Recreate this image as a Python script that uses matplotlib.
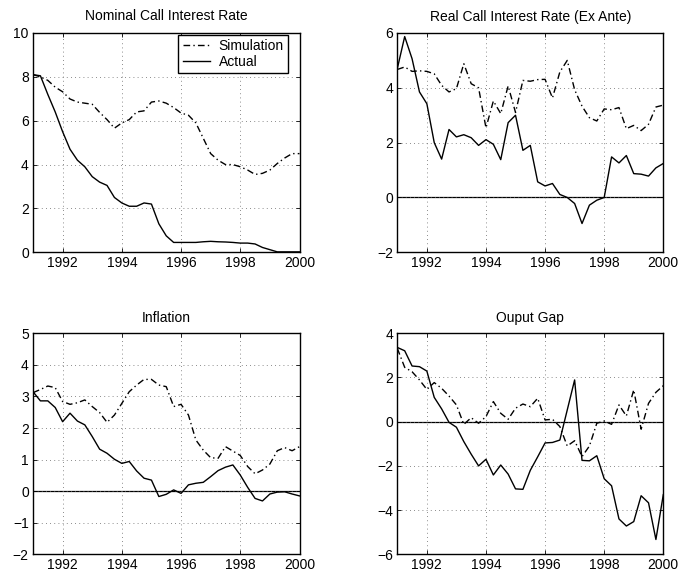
import numpy as np
import matplotlib
matplotlib.use("Agg")
import matplotlib.pyplot as plt

plt.rcParams['font.family'] = ['Liberation Sans', 'DejaVu Sans']

# Quarterly observations, 1991Q1 .. 2000Q1
quarters = np.arange(37) / 4.0 + 1991.0

nominal_sim = [8.1, 8.0, 7.84, 7.53, 7.32, 6.99, 6.85, 6.8, 6.75, 6.38, 6.05, 5.66, 5.9,
               6.05, 6.4, 6.45, 6.85, 6.9, 6.8, 6.6, 6.35, 6.25, 5.9, 5.2, 4.5, 4.2, 4.0,
               4.0, 3.9, 3.75, 3.55, 3.6, 3.75, 4.05, 4.3, 4.5, 4.5]
nominal_act = [8.1, 8.05, 7.2, 6.4, 5.5, 4.7, 4.2, 3.9, 3.45, 3.2, 3.05, 2.5, 2.25, 2.1,
               2.1, 2.25, 2.2, 1.3, 0.75, 0.45, 0.45, 0.45, 0.45, 0.48, 0.5, 0.48, 0.47,
               0.45, 0.42, 0.42, 0.38, 0.22, 0.12, 0.02, 0.02, 0.02, 0.02]

real_sim = [4.67, 4.76, 4.6, 4.62, 4.6, 4.51, 4.09, 3.85, 3.97, 4.88, 4.15, 4.0, 2.54,
            3.52, 3.06, 4.07, 3.1, 4.27, 4.24, 4.3, 4.31, 3.63, 4.58, 5.0, 3.93, 3.33,
            2.91, 2.79, 3.23, 3.2, 3.28, 2.51, 2.63, 2.44, 2.67, 3.3, 3.37]
real_act = [4.7, 5.87, 5.06, 3.85, 3.42, 2.0, 1.4, 2.48, 2.21, 2.29, 2.18, 1.9, 2.11,
            1.94, 1.38, 2.73, 3.0, 1.72, 1.9, 0.57, 0.42, 0.51, 0.11, 0.0, -0.22, -0.95,
            -0.28, -0.1, 0.0, 1.48, 1.26, 1.53, 0.87, 0.85, 0.78, 1.08, 1.24]

infl_sim = [3.12, 3.22, 3.33, 3.28, 2.84, 2.75, 2.8, 2.89, 2.68, 2.49, 2.18, 2.41, 2.78,
            3.15, 3.36, 3.54, 3.54, 3.36, 3.31, 2.68, 2.75, 2.41, 1.62, 1.3, 1.06, 1.04,
            1.41, 1.27, 1.13, 0.78, 0.55, 0.67, 0.86, 1.28, 1.38, 1.28, 1.41]
infl_act = [3.15, 2.86, 2.86, 2.65, 2.2, 2.47, 2.22, 2.1, 1.73, 1.33, 1.2, 1.01, 0.88,
            0.94, 0.64, 0.41, 0.35, -0.17, -0.1, 0.04, -0.07, 0.2, 0.25, 0.28, 0.46,
            0.65, 0.76, 0.83, 0.51, 0.12, -0.23, -0.31, -0.09, -0.03, -0.02, -0.09, -0.15]

gap_sim = [3.32, 2.46, 2.26, 1.89, 1.46, 1.77, 1.51, 1.16, 0.76, -0.12, 0.18, -0.07, 0.23,
           0.91, 0.38, 0.11, 0.61, 0.8, 0.68, 1.06, 0.08, 0.11, -0.22, -1.1, -0.86, -1.58,
           -1.1, -0.07, 0.03, -0.12, 0.76, 0.26, 1.44, -0.34, 0.83, 1.33, 1.63]
gap_act = [3.36, 3.21, 2.52, 2.49, 2.29, 1.1, 0.58, -0.03, -0.25, -0.9, -1.47, -2.0, -1.7,
           -2.41, -1.96, -2.37, -3.04, -3.06, -2.2, -1.59, -0.96, -0.94, -0.83, 0.53, 1.89,
           -1.75, -1.77, -1.54, -2.58, -2.9, -4.4, -4.72, -4.52, -3.35, -3.67, -5.33, -3.3]

titles = ["Nominal Call Interest Rate", "Real Call Interest Rate (Ex Ante)",
          "Inflation", "Ouput Gap"]
xticks = [1992, 1994, 1996, 1998, 2000]
yticks = [np.arange(0, 11, 2), np.arange(-2, 7, 2), np.arange(-2, 6, 1), np.arange(-6, 5, 2)]
series = [(nominal_sim, nominal_act), (real_sim, real_act),
          (infl_sim, infl_act), (gap_sim, gap_act)]
zero_line = [False, True, True, True]

FS = 10

fig = plt.figure(figsize=(6.78, 5.77), dpi=100)
positions = [
    [33 / 678, 1 - 252.3 / 577, 266.5 / 678, 219.3 / 577],
    [397.3 / 678, 1 - 252.3 / 577, 266 / 678, 219.3 / 577],
    [33 / 678, 1 - 554.3 / 577, 266.5 / 678, 221 / 577],
    [397.3 / 678, 1 - 554.3 / 577, 266 / 678, 221 / 577],
]

for i in range(4):
    ax = fig.add_axes(positions[i])
    sim, act = series[i]
    if zero_line[i]:
        ax.axhline(0, color='black', lw=0.9, zorder=1)
    l1, = ax.plot(quarters, sim, color='black', lw=1.0, dashes=(4.8, 2.3, 1.0, 2.3),
                  label='Simulation', zorder=3)
    l2, = ax.plot(quarters, act, color='black', lw=1.0, label='Actual', zorder=3)
    ax.set_xlim(1991, 2000)
    ax.set_ylim(yticks[i][0], yticks[i][-1])
    ax.set_xticks(xticks)
    ax.set_yticks(yticks[i])
    ax.set_xticklabels([str(t) for t in xticks])
    ax.set_yticklabels([str(t).replace('-', '\u2212') for t in yticks[i]])
    ax.tick_params(direction='in', length=3, width=0.6, top=True, right=True,
                   labelsize=FS, pad=3)
    ax.grid(True, color='0.4', linestyle=(0, (1, 4)), lw=0.6)
    for sp in ax.spines.values():
        sp.set_linewidth(1.0)
    ax.set_title(titles[i], fontsize=FS, pad=9 if i < 2 else 8)
    if i == 0:
        leg = ax.legend(handles=[l1, l2], loc='upper right',
                        bbox_to_anchor=(0.957, 0.992), fontsize=FS,
                        frameon=True, fancybox=False, framealpha=1,
                        edgecolor='black', borderpad=0.3, handlelength=2.0,
                        handletextpad=0.6, labelspacing=0.15,
                        borderaxespad=0.0)
        leg.get_frame().set_linewidth(1.0)

fig.savefig("out.png", dpi=100)
